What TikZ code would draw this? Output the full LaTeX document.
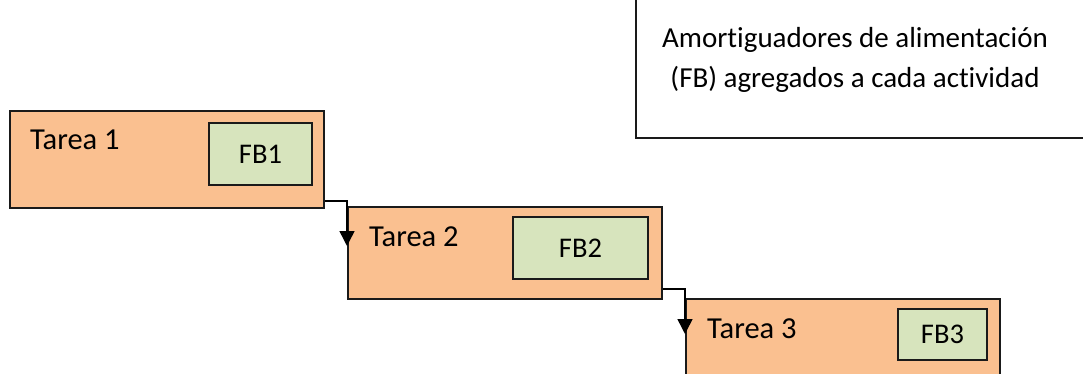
\documentclass[tikz,border=0pt]{standalone}
\usepackage{fontspec}
\setmainfont[Ligatures=NoCommon]{Carlito}
\usetikzlibrary{arrows.meta,calc}
\definecolor{taskfill}{HTML}{FAC090}
\definecolor{fbfill}{HTML}{D7E4BD}
\definecolor{edge}{HTML}{1A1A1A}
\tikzset{
  taskbox/.style={draw=edge, fill=taskfill, line width=2pt, inner sep=0pt, rectangle},
  fbbox/.style={draw=edge, fill=fbfill, line width=2pt, inner sep=0pt, rectangle, font=\fontsize{28.5}{34}\selectfont},
  tasklabel/.style={anchor=base west, inner sep=0pt, font=\fontsize{30.5}{36}\selectfont},
  conn/.style={draw=black, line width=1.5pt, -{Triangle[width=15pt,length=15pt]}},
  legendbox/.style={draw=edge, line width=2pt, fill=white},
}
\begin{document}
\begin{tikzpicture}[x=1pt,y=-1pt]
\useasboundingbox (0,0) rectangle (1083,374);
\clip (0,0) rectangle (1083,374);
% legend
\draw[legendbox] (636,-10) rectangle (1100,138);
\node[align=center, inner sep=0pt, font=\fontsize{29}{40}\selectfont] (legend) at (855,60)
  {Amortiguadores de alimentación\\(FB) agregados a cada actividad};
% tasks
\node[taskbox, minimum width=314pt, minimum height=97pt] (t1) at (167,159.5) {};
\node[taskbox, minimum width=314pt, minimum height=92pt] (t2) at (505,253) {};
\node[taskbox, minimum width=314pt, minimum height=121pt] (t3) at (843,359.5) {};
\node[tasklabel] (l1) at (30,150) {Tarea 1};
\node[tasklabel] (l2) at (369,246) {Tarea 2};
\node[tasklabel] (l3) at (707,338) {Tarea 3};
% buffers
\node[fbbox, minimum width=103pt, minimum height=62pt] (fb1) at (260.5,154) {FB1};
\node[fbbox, minimum width=135pt, minimum height=62pt] (fb2) at (580.5,248) {FB2};
\node[fbbox, minimum width=89pt, minimum height=51pt] (fb3) at (942.5,334.5) {FB3};
% connectors
\coordinate (a2) at ($(t2.north west)+(0,40)$);
\coordinate (a3) at ($(t3.north west)+(0,36)$);
\draw[conn] ([yshift=8pt]t1.south east) -| (a2);
\draw[conn] ([yshift=11pt]t2.south east) -| (a3);
\end{tikzpicture}
\end{document}
